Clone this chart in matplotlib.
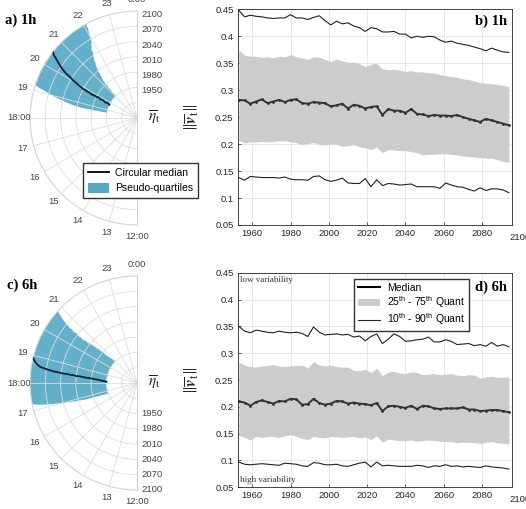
import numpy as np
import matplotlib
matplotlib.use("Agg")
import matplotlib.pyplot as plt
from matplotlib.lines import Line2D
from matplotlib.patches import Patch

plt.rcParams['font.family'] = ['Liberation Sans', 'DejaVu Sans']
plt.rcParams['mathtext.fontset'] = 'custom'
plt.rcParams['mathtext.rm'] = 'Liberation Sans'
plt.rcParams['mathtext.it'] = 'Liberation Sans:italic'
plt.rcParams['mathtext.bf'] = 'Liberation Sans:bold'

# ---------------- polar data (hour of day vs year) ----------------
pol_years = list(range(1950, 2101, 5))
a_median = [19.71, 19.80, 19.74, 19.85, 19.80, 19.88, 19.84, 19.86, 19.83, 19.87, 19.86,
            19.90, 19.88, 19.93, 19.95, 19.98, 20.01, 20.03, 20.07, 20.10, 20.12, 20.15,
            20.18, 20.22, 20.26, 20.31, 20.35, 20.40, 20.44, 20.48, 20.55]
a_q_low = [18.66, 18.67, 18.66, 18.68, 18.67, 18.68, 18.67, 18.69, 18.68, 18.70, 18.69,
           18.72, 18.72, 18.75, 18.76, 18.80, 18.82, 18.85, 18.87, 18.90, 18.93, 18.95,
           18.98, 19.01, 19.03, 19.07, 19.09, 19.12, 19.14, 19.17, 19.19]
a_q_high = [21.05, 21.09, 21.08, 21.13, 21.11, 21.16, 21.15, 21.19, 21.20, 21.27, 21.28,
            21.35, 21.34, 21.43, 21.45, 21.53, 21.55, 21.62, 21.66, 21.74, 21.74, 21.83,
            21.88, 21.96, 21.95, 22.01, 22.03, 22.05, 22.09, 22.08, 22.13]

c_median = [18.15, 18.22, 18.26, 18.30, 18.33, 18.35, 18.38, 18.40, 18.39, 18.42, 18.43,
            18.45, 18.43, 18.47, 18.46, 18.48, 18.49, 18.48, 18.50, 18.51, 18.53, 18.52,
            18.55, 18.56, 18.58, 18.60, 18.62, 18.65, 18.72, 18.80, 18.90]
c_q_low = [16.65, 16.68, 16.70, 16.73, 16.74, 16.77, 16.78, 16.80, 16.80, 16.82, 16.83,
           16.86, 16.88, 16.90, 16.92, 16.94, 16.96, 16.97, 16.99, 17.02, 17.03, 17.05,
           17.06, 17.08, 17.10, 17.12, 17.14, 17.16, 17.18, 17.21, 17.23]
c_q_high = [21.00, 20.95, 20.90, 20.86, 20.82, 20.80, 20.81, 20.77, 20.76, 20.72, 20.71,
            20.67, 20.66, 20.61, 20.63, 20.57, 20.60, 20.57, 20.61, 20.62, 20.59, 20.64,
            20.61, 20.65, 20.66, 20.68, 20.70, 20.72, 20.76, 20.78, 20.82]

hour_ticks = list(range(12, 25))
hour_labels = ['12:00', '13', '14', '15', '16', '17', '18:00', '19', '20', '21', '22', '23', '0:00']
year_ticks = [1950, 1980, 2010, 2040, 2070, 2100]

# ---------------- line chart data ----------------
years = list(range(1953, 2096, 3))
b_p90 = [0.448, 0.436, 0.439, 0.437, 0.436, 0.434, 0.433, 0.434, 0.434, 0.440, 0.434, 0.434,
         0.431, 0.435, 0.438, 0.429, 0.421, 0.428, 0.423, 0.425, 0.419, 0.416, 0.409, 0.416,
         0.414, 0.408, 0.408, 0.409, 0.404, 0.404, 0.397, 0.400, 0.398, 0.400, 0.399, 0.393,
         0.389, 0.391, 0.387, 0.385, 0.383, 0.380, 0.377, 0.373, 0.378, 0.374, 0.371, 0.370]
b_p75 = [0.374, 0.365, 0.363, 0.363, 0.361, 0.362, 0.360, 0.363, 0.362, 0.366, 0.362, 0.360,
         0.357, 0.362, 0.361, 0.357, 0.353, 0.358, 0.354, 0.352, 0.352, 0.349, 0.344, 0.348,
         0.350, 0.340, 0.338, 0.339, 0.337, 0.335, 0.336, 0.334, 0.334, 0.332, 0.332, 0.329,
         0.327, 0.325, 0.324, 0.321, 0.320, 0.317, 0.314, 0.313, 0.312, 0.311, 0.309, 0.307]
b_p50 = [0.282, 0.281, 0.275, 0.279, 0.283, 0.276, 0.279, 0.282, 0.278, 0.282, 0.283, 0.276,
         0.275, 0.278, 0.277, 0.276, 0.270, 0.272, 0.275, 0.266, 0.273, 0.271, 0.266, 0.269,
         0.270, 0.254, 0.265, 0.262, 0.262, 0.258, 0.265, 0.256, 0.255, 0.252, 0.254, 0.253,
         0.253, 0.252, 0.254, 0.250, 0.247, 0.244, 0.241, 0.247, 0.244, 0.241, 0.238, 0.235]
b_p25 = [0.207, 0.202, 0.204, 0.204, 0.205, 0.204, 0.205, 0.206, 0.206, 0.204, 0.203, 0.199,
         0.201, 0.203, 0.199, 0.199, 0.200, 0.200, 0.196, 0.197, 0.199, 0.195, 0.193, 0.190,
         0.194, 0.184, 0.190, 0.189, 0.188, 0.188, 0.186, 0.184, 0.180, 0.181, 0.181, 0.182,
         0.182, 0.181, 0.180, 0.178, 0.177, 0.176, 0.175, 0.174, 0.174, 0.171, 0.168, 0.166]
b_p10 = [0.138, 0.133, 0.140, 0.139, 0.138, 0.138, 0.138, 0.137, 0.139, 0.135, 0.134, 0.134,
         0.133, 0.140, 0.141, 0.134, 0.131, 0.133, 0.137, 0.128, 0.127, 0.127, 0.136, 0.121,
         0.134, 0.123, 0.127, 0.126, 0.124, 0.125, 0.126, 0.121, 0.121, 0.121, 0.121, 0.118,
         0.128, 0.124, 0.121, 0.120, 0.116, 0.113, 0.119, 0.114, 0.117, 0.117, 0.115, 0.110]

d_p90 = [0.350, 0.341, 0.338, 0.343, 0.341, 0.339, 0.338, 0.341, 0.339, 0.338, 0.339, 0.337,
         0.331, 0.349, 0.339, 0.334, 0.335, 0.336, 0.334, 0.335, 0.330, 0.332, 0.323, 0.331,
         0.336, 0.318, 0.326, 0.336, 0.331, 0.322, 0.323, 0.325, 0.326, 0.330, 0.321, 0.321,
         0.325, 0.322, 0.316, 0.317, 0.318, 0.314, 0.316, 0.313, 0.320, 0.313, 0.316, 0.312]
d_p75 = [0.283, 0.278, 0.275, 0.274, 0.276, 0.277, 0.279, 0.276, 0.275, 0.276, 0.277, 0.278,
         0.272, 0.284, 0.278, 0.276, 0.278, 0.275, 0.274, 0.274, 0.268, 0.267, 0.270, 0.264,
         0.272, 0.258, 0.265, 0.266, 0.263, 0.262, 0.265, 0.264, 0.260, 0.261, 0.262, 0.260,
         0.261, 0.262, 0.259, 0.258, 0.260, 0.259, 0.253, 0.256, 0.257, 0.255, 0.255, 0.256]
d_p50 = [0.210, 0.208, 0.202, 0.209, 0.212, 0.209, 0.206, 0.211, 0.210, 0.215, 0.214, 0.204,
         0.205, 0.215, 0.207, 0.204, 0.206, 0.211, 0.210, 0.206, 0.208, 0.206, 0.205, 0.203,
         0.207, 0.192, 0.201, 0.202, 0.200, 0.198, 0.202, 0.196, 0.202, 0.201, 0.197, 0.196,
         0.197, 0.197, 0.197, 0.199, 0.195, 0.195, 0.192, 0.193, 0.194, 0.194, 0.192, 0.190]
d_p25 = [0.147, 0.143, 0.138, 0.145, 0.143, 0.145, 0.145, 0.143, 0.146, 0.148, 0.145, 0.141,
         0.139, 0.145, 0.143, 0.142, 0.145, 0.144, 0.143, 0.144, 0.145, 0.142, 0.144, 0.139,
         0.146, 0.134, 0.140, 0.138, 0.137, 0.137, 0.138, 0.136, 0.137, 0.138, 0.137, 0.136,
         0.135, 0.135, 0.133, 0.134, 0.134, 0.133, 0.132, 0.134, 0.135, 0.133, 0.132, 0.131]
d_p10 = [0.097, 0.093, 0.092, 0.093, 0.094, 0.093, 0.092, 0.091, 0.095, 0.094, 0.093, 0.090,
         0.089, 0.096, 0.095, 0.092, 0.092, 0.093, 0.090, 0.089, 0.092, 0.095, 0.097, 0.088,
         0.097, 0.090, 0.091, 0.090, 0.089, 0.089, 0.089, 0.091, 0.090, 0.087, 0.090, 0.089,
         0.092, 0.089, 0.090, 0.088, 0.089, 0.088, 0.087, 0.090, 0.088, 0.087, 0.086, 0.084]

x_ticks = [1960, 1980, 2000, 2020, 2040, 2060, 2080]
y_ticks = [0.05, 0.1, 0.15, 0.2, 0.25, 0.3, 0.35, 0.4, 0.45]

BAND = '#56AAC7'
MED = '#0B2236'
GRID = '#dcdcdc'
TXT = '#444444'
W, H = 526, 509

fig = plt.figure(figsize=(W / 100, H / 100), dpi=100)


def fx(px):
    return px / W


def fy(py):
    return 1 - py / H


def polar_panel(cy, med, lo, hi, label_side):
    R = 107
    cx = 137
    # half-disc is fitted into a square box; wedge centred horizontally in it
    wcx = cx - R / 2
    ax = fig.add_axes([fx(wcx - R), fy(cy + R), 2 * R / W, 2 * R / H], projection='polar')
    ax.set_theta_zero_location('N')
    ax.set_theta_direction(-1)
    ax.set_thetamin(180)
    ax.set_thetamax(360)
    ax.set_rlim(1890, 2100)
    ax.set_rticks([1920, 1950, 1980, 2010, 2040, 2070, 2100])
    ax.set_yticklabels([])
    ax.set_thetagrids([h * 15 for h in hour_ticks], hour_labels)
    ax.tick_params(axis='x', labelsize=6.8, colors=TXT, pad=-2.5)
    ax.grid(True, color=GRID, lw=0.6)
    ax.patch.set_alpha(0)
    for s in ax.spines.values():
        s.set_color('#cfcfcf')
        s.set_linewidth(0.7)
    r = np.array(pol_years, dtype=float)
    tl = np.deg2rad(np.array(lo) * 15)
    th = np.deg2rad(np.array(hi) * 15)
    outer = np.linspace(tl[-1], th[-1], 40)
    inner = np.linspace(th[0], tl[0], 40)
    tpoly = np.concatenate([tl, outer, th[::-1], inner])
    rpoly = np.concatenate([r, np.full(40, r[-1]), r[::-1], np.full(40, r[0])])
    ax.fill(tpoly, rpoly, color=BAND, lw=0, zorder=1, alpha=0.92)
    ax.plot(np.deg2rad(np.array(med) * 15), r, color=MED, lw=1.3, zorder=3)
    ax.set_axisbelow(False)
    th_lab = 2 * np.pi if label_side == 'top' else np.pi
    for yv in year_ticks:
        ax.annotate(str(yv), xy=(th_lab, yv), xytext=(3, -2.5 if label_side == 'top' else 0),
                    textcoords='offset points', ha='left', va='center', fontsize=6.8,
                    color=TXT, annotation_clip=False)
    fig.text(fx(148), fy(cy), r'$\overline{\eta}_{\mathrm{t}}$', fontsize=11,
             math_fontfamily='stix', va='center', ha='left', color='#222222')
    return ax


ax_a = polar_panel(118, a_median, a_q_low, a_q_high, 'top')
ax_c = polar_panel(383, c_median, c_q_low, c_q_high, 'bottom')

fig.text(fx(5), fy(20), 'a) 1h', fontsize=10.5, fontweight='bold', family='Liberation Serif', va='center')
fig.text(fx(7), fy(285), 'c) 6h', fontsize=10.5, fontweight='bold', family='Liberation Serif', va='center')

fig.legend([Line2D([], [], color='black', lw=1.3), Patch(facecolor=BAND, edgecolor='none')],
           ['Circular median', 'Pseudo-quartiles'], loc='upper left',
           bbox_to_anchor=(fx(83), fy(163)), fontsize=7.5, frameon=True, fancybox=False,
           edgecolor='#333333', framealpha=1, borderpad=0.45, handlelength=2.0,
           handleheight=1.1, labelspacing=0.45, handletextpad=0.6, borderaxespad=0)


def line_panel(top, bottom, p10, p25, p50, p75, p90, label, lab_y):
    left, right = 237.7, 511.7
    ax = fig.add_axes([fx(left), fy(bottom), (right - left) / W, (bottom - top) / H])
    ax.fill_between(years, p25, p75, color='#cccccc', lw=0, zorder=1)
    ax.plot(years, p90, color='#222222', lw=0.8, zorder=2)
    ax.plot(years, p10, color='#222222', lw=0.8, zorder=2)
    ax.plot(years, p50, color='#333333', lw=1.4, marker='.', ms=2, zorder=3)
    ax.set_xlim(1952.4, 2095.5)
    ax.set_ylim(0.05, 0.45)
    ax.set_xticks(x_ticks)
    ax.set_yticks(y_ticks)
    ax.set_yticklabels(['%g' % v for v in y_ticks])
    ax.tick_params(direction='in', length=2.5, width=0.5, labelsize=6.8, colors='#262626', pad=3)
    ax.grid(True, color='#e3e3e3', lw=0.6)
    ax.set_axisbelow(True)
    for s in ax.spines.values():
        s.set_color('#262626')
        s.set_linewidth(0.6)
    ax.annotate('2100', xy=(2100, 0), xycoords=('data', 'axes fraction'), xytext=(0, -5.5),
                textcoords='offset points', ha='center', va='top', fontsize=6.8,
                color='#262626', annotation_clip=False)
    ax.set_ylabel(r'$\left\Vert\overline{\mathbfit{v}}_{\mathrm{t}}\right\Vert$', fontsize=12,
                  math_fontfamily='stix', color='#262626')
    ax.yaxis.set_label_coords((201 - left) / (right - left), 0.5)
    ax.text(0.983, lab_y, label, transform=ax.transAxes, ha='right', va='center',
            fontsize=10.5, fontweight='bold', family='Liberation Serif')
    return ax


ax_b = line_panel(9.3, 225, b_p10, b_p25, b_p50, b_p75, b_p90, 'b) 1h', 0.946)
ax_d = line_panel(272.7, 487.3, d_p10, d_p25, d_p50, d_p75, d_p90, 'd) 6h', 0.933)

ax_d.text(0.01, 0.968, 'low variability', transform=ax_d.transAxes, ha='left', va='center',
          fontsize=6.5, family='Liberation Serif', color='#333333')
ax_d.text(0.01, 0.034, 'high variability', transform=ax_d.transAxes, ha='left', va='center',
          fontsize=6.5, family='Liberation Serif', color='#333333')
ax_d.legend([Line2D([], [], color='black', lw=1.5), Patch(facecolor='#cccccc', edgecolor='none'),
             Line2D([], [], color='#222222', lw=0.8)],
            ['Median', r'25$^{\mathrm{th}}$ - 75$^{\mathrm{th}}$ Quant',
             r'10$^{\mathrm{th}}$ - 90$^{\mathrm{th}}$ Quant'],
            loc='upper left', bbox_to_anchor=(0.424, 0.971), fontsize=7.5, frameon=True,
            fancybox=False, edgecolor='#333333', framealpha=1, borderpad=0.35,
            handlelength=2.2, labelspacing=0.15, handletextpad=0.6, borderaxespad=0)

fig.savefig('out.png', dpi=100)
